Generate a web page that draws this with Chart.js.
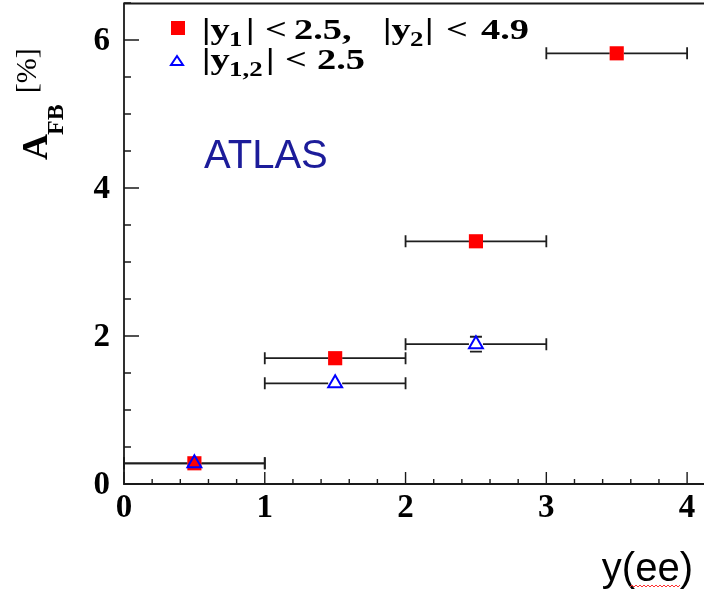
<!DOCTYPE html>
<html>
<head>
<meta charset="utf-8">
<script src="https://cdn.jsdelivr.net/npm/chart.js@4.4.1/dist/chart.umd.min.js"></script>
<style>
  html, body { margin: 0; padding: 0; background: #fff; }
</style>
</head>
<body>
<canvas id="afbChart" width="704" height="597"></canvas>
<script>
// tick labels
const xTicks = [0, 1, 2, 3, 4];
const yTicks = [0, 2, 4, 6];

// |y1| < 2.5, |y2| < 4.9  (red squares)
const wideBins = [0.5, 1.5, 2.5, 3.5];
const wideAfb = [0.28, 1.70, 3.28, 5.82];
const wideErr = [0.04, 0.05, 0.06, 0.08];

// |y1,2| < 2.5  (blue open triangles)
const centralBins = [0.5, 1.5, 2.5];
const centralAfb = [0.28, 1.36, 1.89];
const centralErr = [0.03, 0.03, 0.10];

const binHalf = 0.5;

const serif = '"Liberation Serif", "Times New Roman", serif';
const sans = '"Liberation Sans", Arial, sans-serif';

function toPoints(xs, ys, errs) {
  return xs.map((x, i) => ({ x: x, y: ys[i], xErr: binHalf, yErr: errs[i] }));
}

// horizontal bin bars + vertical errors, ROOT style (gap at the marker)
const errorBars = {
  id: "errorBars",
  beforeDatasetsDraw(chart) {
    const { ctx, scales: { x, y } } = chart;
    ctx.save();
    ctx.strokeStyle = "#1e1e1e";
    ctx.lineWidth = 1.8;
    chart.data.datasets.forEach((ds, di) => {
      const meta = chart.getDatasetMeta(di);
      const gap = ds.markerHalf;
      ds.data.forEach((p, i) => {
        const el = meta.data[i];
        const px = el.x, py = el.y;
        const xl = x.getPixelForValue(p.x - p.xErr);
        const xr = x.getPixelForValue(p.x + p.xErr);
        const yt = y.getPixelForValue(p.y + p.yErr);
        const yb = y.getPixelForValue(p.y - p.yErr);
        ctx.beginPath();
        ctx.moveTo(xl, py); ctx.lineTo(px - gap, py);
        ctx.moveTo(px + gap, py); ctx.lineTo(xr, py);
        ctx.moveTo(xl, py - 6); ctx.lineTo(xl, py + 6);
        ctx.moveTo(xr, py - 6); ctx.lineTo(xr, py + 6);
        if (py - yt > 6) {
          ctx.moveTo(px, py - gap); ctx.lineTo(px, yt);
          ctx.moveTo(px - 6, yt); ctx.lineTo(px + 6, yt);
          ctx.moveTo(px, py + gap); ctx.lineTo(px, yb);
          ctx.moveTo(px - 6, yb); ctx.lineTo(px + 6, yb);
        }
        ctx.stroke();
      });
    });
    ctx.restore();
  }
};

// frame, inward ticks and tick labels (ROOT look)
const frame = {
  id: "frame",
  afterDraw(chart) {
    const { ctx, chartArea: a, scales: { x, y } } = chart;
    ctx.save();
    ctx.strokeStyle = "#1a1a1a";
    ctx.lineWidth = 1.8;
    ctx.beginPath();
    ctx.moveTo(a.right, a.top + 0.5); ctx.lineTo(a.left, a.top + 0.5);
    ctx.lineTo(a.left, a.bottom); ctx.lineTo(a.right, a.bottom);
    ctx.stroke();
    ctx.lineWidth = 1.4;
    ctx.beginPath();
    for (let k = 0; k <= 20; k++) {
      const px = x.getPixelForValue(k * 0.2);
      const len = k % 5 === 0 ? 12 : 5;
      ctx.moveTo(px, a.bottom); ctx.lineTo(px, a.bottom - len);
    }
    for (let k = 0; k <= 13; k++) {
      const py = y.getPixelForValue(k * 0.5);
      const len = k % 4 === 0 ? 15 : 7;
      ctx.moveTo(a.left, py); ctx.lineTo(a.left + len, py);
    }
    ctx.stroke();

    ctx.fillStyle = "#000";
    ctx.font = "bold 33px " + serif;
    ctx.textAlign = "center";
    ctx.textBaseline = "top";
    x.ticks.forEach(t => ctx.fillText(String(t.value), x.getPixelForValue(t.value), a.bottom + 8));
    ctx.textAlign = "right";
    ctx.textBaseline = "middle";
    y.ticks.forEach(t => ctx.fillText(String(t.value), a.left - 14, y.getPixelForValue(t.value) + 1));
    ctx.restore();
  }
};

// one piece of stretched bold serif text
function seg(ctx, t, x, base, size) {
  ctx.save();
  ctx.translate(x, base);
  ctx.scale(1.28, 1);
  ctx.font = "bold " + size + "px " + serif;
  ctx.fillText(t, 0, 0);
  ctx.restore();
}

// legend, axis titles, ATLAS label
const labels = {
  id: "labels",
  afterDraw(chart) {
    const ctx = chart.ctx;
    ctx.save();
    ctx.textBaseline = "alphabetic";
    ctx.textAlign = "left";
    ctx.fillStyle = "#000";

    // y-axis title, rotated
    ctx.save();
    ctx.translate(47, 160);
    ctx.rotate(-Math.PI / 2);
    ctx.font = "bold 36px " + serif;
    ctx.fillText("A", 0, 0);
    let w = ctx.measureText("A").width;
    ctx.font = "bold 24px " + serif;
    ctx.fillText("FB", w - 1, 16);
    w += ctx.measureText("FB").width + 10;
    ctx.font = "30px " + serif;
    ctx.fillText("[%]", w, -11);
    ctx.restore();

    // legend markers
    ctx.fillStyle = "#ff0000";
    ctx.fillRect(171, 21, 14, 14);
    ctx.strokeStyle = "#0000ff";
    ctx.lineWidth = 2;
    ctx.beginPath();
    ctx.moveTo(177, 56); ctx.lineTo(183, 65); ctx.lineTo(171, 65); ctx.closePath();
    ctx.stroke();

    // legend text
    ctx.fillStyle = "#000";
    seg(ctx, "|y", 202, 39, 30); seg(ctx, "1", 229, 46, 21);
    seg(ctx, "|", 246, 39, 30); seg(ctx, "<", 265, 39, 30);
    seg(ctx, "2.5,", 294, 39, 30);
    seg(ctx, "|y", 383, 39, 30); seg(ctx, "2", 410, 46, 21);
    seg(ctx, "|", 425, 39, 30); seg(ctx, "<", 446, 39, 30);
    seg(ctx, "4.9", 481, 39, 30);

    seg(ctx, "|y", 202, 69, 30); seg(ctx, "1,2", 229, 76, 21);
    seg(ctx, "|", 266, 69, 30); seg(ctx, "<", 285, 69, 30);
    seg(ctx, "2.5", 317, 69, 30);

    // ATLAS
    ctx.fillStyle = "#1c1c9a";
    ctx.font = "40px " + sans;
    ctx.fillText("ATLAS", 204, 168);

    // x-axis title
    ctx.fillStyle = "#000";
    ctx.font = "40px " + sans;
    ctx.textAlign = "right";
    ctx.fillText("y(ee)", 693, 581);

    // spell-check squiggle under "ee"
    ctx.strokeStyle = "#ff3030";
    ctx.lineWidth = 1;
    ctx.beginPath();
    for (let sx = 630; sx <= 680; sx += 2) {
      const sy = 585 + ((sx / 2) % 2 === 0 ? 0 : 2);
      if (sx === 630) ctx.moveTo(sx, sy); else ctx.lineTo(sx, sy);
    }
    ctx.stroke();
    ctx.restore();
  }
};

const ctx = document.getElementById("afbChart").getContext("2d");
new Chart(ctx, {
  type: "scatter",
  data: {
    datasets: [
      {
        label: "|y1| < 2.5, |y2| < 4.9",
        data: toPoints(wideBins, wideAfb, wideErr),
        pointStyle: "rect",
        pointRadius: 10,
        pointHoverRadius: 10,
        backgroundColor: "#ff0000",
        borderColor: "#ff0000",
        borderWidth: 0,
        markerHalf: 7,
        order: 2
      },
      {
        label: "|y1,2| < 2.5",
        data: toPoints(centralBins, centralAfb, centralErr),
        pointStyle: "triangle",
        pointRadius: 8,
        pointHoverRadius: 8,
        backgroundColor: "rgba(0,0,0,0)",
        borderColor: "#0000ff",
        borderWidth: 2,
        markerHalf: 7,
        order: 1
      }
    ]
  },
  options: {
    responsive: false,
    animation: false,
    layout: { autoPadding: false, padding: { top: 3, right: 0, bottom: 0, left: 0 } },
    plugins: {
      legend: { display: false },
      tooltip: { enabled: false }
    },
    scales: {
      x: {
        type: "linear",
        min: 0,
        max: 4.12,
        afterBuildTicks: s => { s.ticks = xTicks.map(v => ({ value: v })); },
        afterFit: s => { s.height = 113; },
        grid: { display: false, drawTicks: false },
        border: { display: false },
        ticks: { display: false }
      },
      y: {
        type: "linear",
        min: 0,
        max: 6.5,
        afterBuildTicks: s => { s.ticks = yTicks.map(v => ({ value: v })); },
        afterFit: s => { s.width = 124; },
        grid: { display: false, drawTicks: false },
        border: { display: false },
        ticks: { display: false }
      }
    }
  },
  plugins: [errorBars, frame, labels]
});
</script>
</body>
</html>
